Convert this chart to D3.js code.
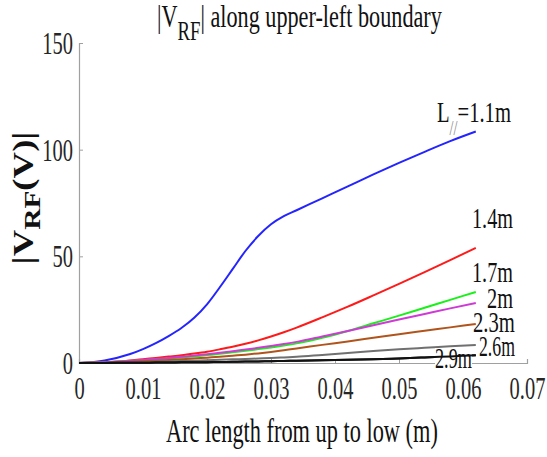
<!DOCTYPE html>
<html>
<head>
<meta charset="utf-8">
<script src="https://cdn.jsdelivr.net/npm/d3@7"></script>
<style>
html,body{margin:0;padding:0;background:#fff;}
svg{display:block;}
text{font-family:"Liberation Serif","Times New Roman",serif;}
</style>
</head>
<body>
<svg id="chart" width="547" height="457"></svg>
<script>
// ---- data ----
const arcLength = [0,0.004,0.008,0.01,0.012,0.014,0.016,0.018,0.02,0.022,0.024,0.026,0.028,0.03,0.032,0.034,0.038,0.042,0.046,0.05,0.054,0.058,0.062];
const vL11 = [0,1.2,4.2,6.5,9.3,12.6,16.4,21.2,27.5,35.5,44,52.5,59.5,65,68.8,71.6,77.2,82.8,88.4,93.8,99,104,108.5];
const vL14 = [0,0.3,1.2,1.8,2.4,3.0,3.6,4.4,5.3,6.4,7.6,9.0,10.6,12.4,14.4,16.6,21.4,26.4,31.7,37.1,42.6,48.2,54];
const vL17 = [0,0.3,0.9,1.3,1.7,2.1,2.6,3.1,3.7,4.3,5.0,5.7,6.5,7.3,8.2,9.2,11.8,15.0,18.6,22.2,25.9,29.6,33.3];
const vL20 = [0,0.35,1.0,1.4,1.9,2.4,2.9,3.5,4.1,4.8,5.5,6.3,7.1,8.0,8.9,9.9,12.4,15.0,17.7,20.4,23.0,25.6,28.1];
const vL23 = [0,0.2,0.6,0.85,1.1,1.4,1.7,2.1,2.5,2.9,3.4,3.9,4.5,5.2,6.0,6.8,8.5,10.1,11.8,13.5,15.1,16.7,18.3];
const vL26 = [0,0.1,0.3,0.45,0.6,0.75,0.9,1.1,1.3,1.5,1.7,1.9,2.1,2.3,2.6,2.9,3.8,4.7,5.6,6.4,7.1,7.8,8.4];
const vL29 = [0,0.05,0.1,0.15,0.2,0.25,0.3,0.35,0.4,0.5,0.55,0.65,0.75,0.85,0.95,1.05,1.3,1.5,1.75,2.15,2.6,3.1,3.6];
const seriesLabels = ["=1.1m","1.4m","1.7m","2m","2.3m","2.6m","2.9m"];
const seriesColors = ["#2424ff","#ff1a1a","#19f019","#cf3ad6","#b0541c","#707070","#111111"];
const xTicks = [0,0.01,0.02,0.03,0.04,0.05,0.06,0.07];
const xTickLabels = ["0","0.01","0.02","0.03","0.04","0.05","0.06","0.07"];
const yTicks = [0,50,100,150];
const titleMain = "|V";
const titleSub = "RF";
const titleRest = "| along upper-left boundary";
const xLabel = "Arc length from up to low (m)";

const series = [vL11,vL14,vL17,vL20,vL23,vL26,vL29];

const svg = d3.select("#chart");
svg.append("rect").attr("width",547).attr("height",457).attr("fill","#fff");

const x = d3.scaleLinear().domain([0,0.07]).range([79,527]);
const y = d3.scaleLinear().domain([0,150]).range([363,43]);

const SX = 0.66; // horizontal squeeze of the original fonts

function squeeze(g, px, s){
  g.attr("transform",`translate(${px},0) scale(${s},1) translate(${-px},0)`);
}

// axes
const xAxis = d3.axisBottom(x).tickValues(xTicks).tickFormat((d,i)=>xTickLabels[i])
  .tickSizeInner(-4).tickSizeOuter(-4).tickPadding(14);
const gx = svg.append("g").attr("transform",`translate(0,${y(0)})`).call(xAxis);
const yAxis = d3.axisLeft(y).tickValues(yTicks).tickFormat(d3.format("d"))
  .tickSizeInner(-4).tickSizeOuter(-4).tickPadding(6);
const gy = svg.append("g").attr("transform",`translate(${x(0)},0)`).call(yAxis);

[gx,gy].forEach(g=>{
  g.select(".domain").attr("stroke","#a0a0a0").attr("stroke-width",1.2);
  g.selectAll(".tick line").attr("stroke","#a0a0a0").attr("stroke-width",1);
  g.selectAll(".tick text").attr("fill","#262626").attr("font-size",31)
   .attr("font-family","Liberation Serif");
});
gx.selectAll(".tick text").attr("y",14).attr("dy","0.71em")
  .attr("transform",`scale(${SX},1)`);
gy.selectAll(".tick text").attr("x",-6/SX).attr("dy","0.34em")
  .attr("transform",`scale(${SX},1)`);

// title
const tg = svg.append("g");
const tt = tg.append("text").attr("x",157).attr("y",27).attr("font-size",32).attr("fill","#111");
tt.append("tspan").text(titleMain);
tt.append("tspan").attr("font-size",27).attr("dy",13).text(titleSub);
tt.append("tspan").attr("dy",-13).text(titleRest);
squeeze(tg,157,285/tt.node().getComputedTextLength());

// x label
const xg = svg.append("g");
const xt = xg.append("text").attr("x",166).attr("y",442).attr("font-size",33).attr("fill","#111").text(xLabel);
squeeze(xg,166,272/xt.node().getComputedTextLength());

// y label (rotated)
const yg = svg.append("g").attr("transform","translate(33,198) rotate(-90)");
const yInner = yg.append("g");
const yt = yInner.append("text").attr("x",0).attr("y",0).attr("text-anchor","middle")
  .attr("font-size",30).attr("font-weight","bold").attr("fill","#111");
yt.append("tspan").text("|V");
yt.append("tspan").attr("font-size",24).attr("dy",7).text("RF");
yt.append("tspan").attr("dy",-7).text("(V)|");
squeeze(yInner,0,133/yt.node().getComputedTextLength());

// lines
const line = d3.line().x((d,i)=>x(arcLength[i])).y(d=>y(d)).curve(d3.curveMonotoneX);

function curveLabel(txt, lx, baseline, width, bg){
  const g = svg.append("g");
  const t = g.append("text").attr("x",lx).attr("y",baseline).attr("font-size",30).attr("fill","#111").text(txt);
  const s = width/t.node().getComputedTextLength();
  if(bg){
    const b = t.node().getBBox();
    g.insert("rect","text").attr("x",b.x).attr("y",baseline-20).attr("width",b.width).attr("height",24).attr("fill","#fff");
  }
  squeeze(g,lx,s);
  return g;
}

series.forEach((vals,i)=>{
  svg.append("path").datum(vals).attr("d",line).attr("fill","none")
    .attr("stroke",seriesColors[i]).attr("stroke-width",2);
});

curveLabel(seriesLabels[6],435,368,37,true);
svg.append("path").datum(vL29).attr("d",line).attr("fill","none")
  .attr("stroke",seriesColors[6]).attr("stroke-width",2);

// L// label
const lg = svg.append("g");
const lt = lg.append("text").attr("x",437).attr("y",122).attr("font-size",29).attr("fill","#111");
lt.append("tspan").text("L");
lt.append("tspan").attr("font-size",20).attr("dy",13).attr("fill","#8a8a8a").text("//");
lt.append("tspan").attr("dy",-13).text(seriesLabels[0]);
squeeze(lg,437,74/lt.node().getComputedTextLength());

curveLabel(seriesLabels[1],472,228,41,false);
curveLabel(seriesLabels[2],472,282,41,false);
curveLabel(seriesLabels[3],487,308,26,false);
curveLabel(seriesLabels[4],473,332,42,false);
curveLabel(seriesLabels[5],479,356,36,false);
</script>
</body>
</html>
